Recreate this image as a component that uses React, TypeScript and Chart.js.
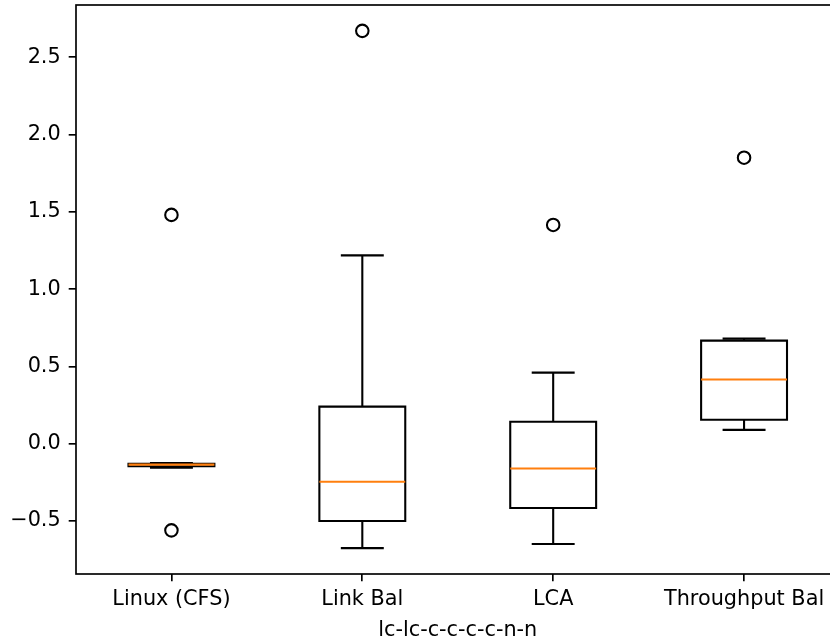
import React, { useEffect, useRef } from "react";
import { Chart, registerables } from "chart.js";

Chart.register(...registerables);

const categories = ["Linux (CFS)", "Link Bal", "LCA", "Throughput Bal"];
const whiskerLow = [-0.155, -0.675, -0.648, 0.09];
const q1 = [-0.145, -0.5, -0.415, 0.155];
const median = [-0.135, -0.246, -0.16, 0.415];
const q3 = [-0.13, 0.24, 0.142, 0.667];
const whiskerHigh = [-0.125, 1.218, 0.46, 0.68];
const outliers = [[1.48, -0.56], [2.67], [1.415], [1.85]];
const yTicks = [-0.5, 0, 0.5, 1, 1.5, 2, 2.5];
const xTitle = "lc-lc-c-c-c-c-n-n";

const allVals = [...whiskerLow, ...whiskerHigh, ...outliers.flat()];
const dMin = Math.min(...allVals);
const dMax = Math.max(...allVals);
const yMin = dMin - 0.05 * (dMax - dMin);
const yMax = dMax + 0.05 * (dMax - dMin);

const FONT = { family: "'DejaVu Sans', sans-serif", size: 20.8 };
const LW = 2.08;
const SPINE = 1.67;

const boxPlugin = {
  id: "boxes",
  beforeDatasetsDraw(chart: any) {
    const { ctx, scales } = chart;
    const xs = scales.x;
    const ys = scales.y;
    ctx.save();
    ctx.lineWidth = LW;
    ctx.lineCap = "butt";
    ctx.lineJoin = "miter";
    categories.forEach((_, i) => {
      const c = i + 1;
      const xl = xs.getPixelForValue(c - 0.225);
      const xr = xs.getPixelForValue(c + 0.225);
      const xcl = xs.getPixelForValue(c - 0.1125);
      const xcr = xs.getPixelForValue(c + 0.1125);
      const xc = xs.getPixelForValue(c);
      const yq1 = ys.getPixelForValue(q1[i]);
      const yq3 = ys.getPixelForValue(q3[i]);
      const ylo = ys.getPixelForValue(whiskerLow[i]);
      const yhi = ys.getPixelForValue(whiskerHigh[i]);
      const ymed = ys.getPixelForValue(median[i]);
      ctx.strokeStyle = "#000000";
      ctx.beginPath();
      ctx.moveTo(xc, yq1);
      ctx.lineTo(xc, ylo);
      ctx.moveTo(xc, yq3);
      ctx.lineTo(xc, yhi);
      ctx.stroke();
      ctx.beginPath();
      ctx.moveTo(xcl, ylo);
      ctx.lineTo(xcr, ylo);
      ctx.moveTo(xcl, yhi);
      ctx.lineTo(xcr, yhi);
      ctx.stroke();
      ctx.beginPath();
      ctx.rect(xl, yq3, xr - xl, yq1 - yq3);
      ctx.stroke();
      ctx.strokeStyle = "#ff7f0e";
      ctx.beginPath();
      ctx.moveTo(xl, ymed);
      ctx.lineTo(xr, ymed);
      ctx.stroke();
    });
    ctx.restore();
  },
  afterDraw(chart: any) {
    const { ctx, chartArea } = chart;
    ctx.save();
    ctx.strokeStyle = "#000000";
    ctx.lineWidth = SPINE;
    ctx.strokeRect(chartArea.left, chartArea.top, chartArea.right - chartArea.left, chartArea.bottom - chartArea.top);
    ctx.restore();
  },
};

export default function App() {
  const ref = useRef<HTMLCanvasElement | null>(null);
  useEffect(() => {
    if (!ref.current) return;
    const pts: { x: number; y: number }[] = [];
    outliers.forEach((arr, i) => arr.forEach((v) => pts.push({ x: i + 1, y: v })));
    const chart = new Chart(ref.current, {
      type: "scatter",
      data: {
        datasets: [
          {
            data: pts,
            pointRadius: 6.25,
            pointHoverRadius: 6.25,
            borderColor: "#000000",
            backgroundColor: "rgba(0,0,0,0)",
            borderWidth: 2.08,
            pointStyle: "circle",
          },
        ],
      },
      options: {
        animation: false,
        responsive: false,
        devicePixelRatio: 1,
        layout: { autoPadding: false, padding: { top: 5, right: 2.5, left: 0, bottom: 0 } },
        plugins: { legend: { display: false }, tooltip: { enabled: false } },
        scales: {
          x: {
            type: "linear",
            min: 0.5,
            max: 4.5,
            afterBuildTicks: (axis: any) => {
              axis.ticks = categories.map((_, i) => ({ value: i + 1 }));
            },
            afterFit: (axis: any) => {
              axis.height = 69;
              axis.paddingLeft = 0;
              axis.paddingRight = 0;
            },
            ticks: {
              autoSkip: false,
              maxRotation: 0,
              color: "#000000",
              font: FONT,
              padding: 6,
              callback: (v: any) => categories[Number(v) - 1] ?? "",
            },
            grid: { drawOnChartArea: false, drawTicks: true, tickLength: 7.3, color: "#000000", lineWidth: SPINE },
            border: { display: false },
            title: { display: true, text: xTitle, color: "#000000", font: FONT, padding: { top: 0, bottom: 0 } },
          },
          y: {
            type: "linear",
            min: yMin,
            max: yMax,
            afterBuildTicks: (axis: any) => {
              axis.ticks = yTicks.map((v) => ({ value: v }));
            },
            afterFit: (axis: any) => {
              axis.width = 76;
              axis.paddingTop = 0;
              axis.paddingBottom = 0;
            },
            ticks: {
              color: "#000000",
              font: FONT,
              padding: 8,
              callback: (v: any) => Number(v).toFixed(1).replace("-", "\u2212"),
            },
            grid: { drawOnChartArea: false, drawTicks: true, tickLength: 7.3, color: "#000000", lineWidth: SPINE },
            border: { display: false },
          },
        },
      },
      plugins: [boxPlugin],
    });
    return () => chart.destroy();
  }, []);
  return (
    <div style={{ position: "fixed", left: 0, top: 0, width: 830, height: 643, overflow: "hidden", background: "#ffffff" }}>
      <canvas ref={ref} width={842} height={643} style={{ width: 842, height: 643, display: "block" }} />
    </div>
  );
}
